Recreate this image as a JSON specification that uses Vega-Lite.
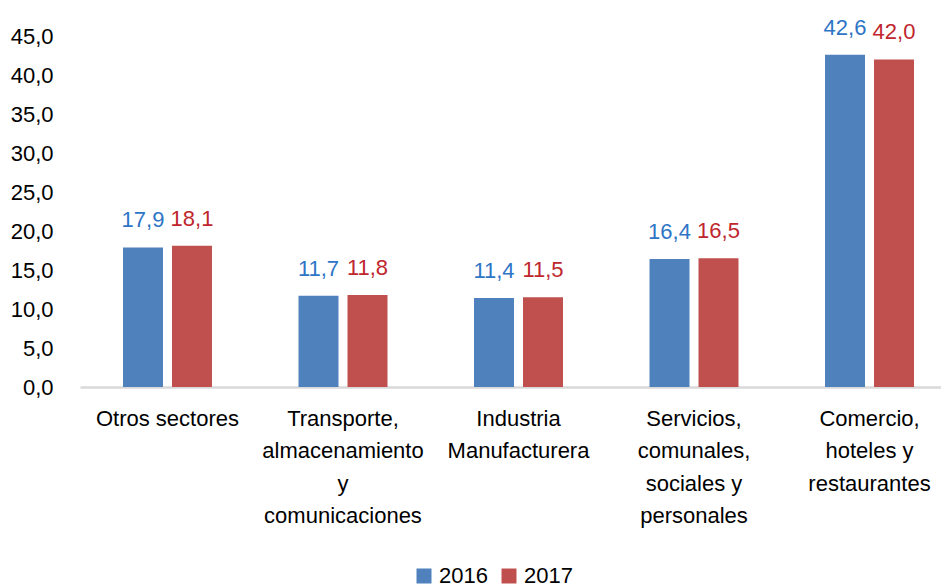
{
  "$schema": "https://vega.github.io/schema/vega-lite/v6.json",
  "width": 861,
  "height": 351,
  "autosize": {"type": "none"},
  "padding": {"left": 80, "top": 36, "right": 0, "bottom": 201},
  "background": "white",
  "config": {
    "locale": {"number": {"decimal": ",", "thousands": ".", "grouping": [3], "currency": ["", " €"]}},
    "font": "Liberation Sans",
    "view": {"stroke": null},
    "axis": {"labelFont": "Liberation Sans", "labelFontSize": 22, "labelColor": "#000000"}
  },
  "data": {
    "values": [
      {"sector": "Otros sectores", "year": "2016", "value": 17.9},
      {"sector": "Otros sectores", "year": "2017", "value": 18.1},
      {"sector": "Transporte, almacenamiento y comunicaciones", "year": "2016", "value": 11.7},
      {"sector": "Transporte, almacenamiento y comunicaciones", "year": "2017", "value": 11.8},
      {"sector": "Industria Manufacturera", "year": "2016", "value": 11.4},
      {"sector": "Industria Manufacturera", "year": "2017", "value": 11.5},
      {"sector": "Servicios, comunales, sociales y personales", "year": "2016", "value": 16.4},
      {"sector": "Servicios, comunales, sociales y personales", "year": "2017", "value": 16.5},
      {"sector": "Comercio, hoteles y restaurantes", "year": "2016", "value": 42.6},
      {"sector": "Comercio, hoteles y restaurantes", "year": "2017", "value": 42.0}
    ]
  },
  "encoding": {
    "x": {
      "field": "sector",
      "type": "nominal",
      "sort": null,
      "title": null,
      "scale": {"range": [0, 877], "paddingInner": 0.493, "paddingOuter": 0.245},
      "axis": {
        "labelAngle": 0,
        "ticks": false,
        "tickSize": 0,
        "domainColor": "#d9d9d9",
        "domainWidth": 2.5,
        "labelPadding": 21,
        "labelBaseline": "top",
        "labelLineHeight": 32.5,
        "labelLimit": 0,
        "labelExpr": "datum.value == 'Transporte, almacenamiento y comunicaciones' ? ['Transporte,', 'almacenamiento', 'y', 'comunicaciones'] : datum.value == 'Industria Manufacturera' ? ['Industria', 'Manufacturera'] : datum.value == 'Servicios, comunales, sociales y personales' ? ['Servicios,', 'comunales,', 'sociales y', 'personales'] : datum.value == 'Comercio, hoteles y restaurantes' ? ['Comercio,', 'hoteles y', 'restaurantes'] : datum.value"
      }
    },
    "xOffset": {
      "field": "year",
      "type": "nominal",
      "scale": {"paddingInner": 0.1837, "paddingOuter": 0}
    },
    "y": {
      "field": "value",
      "type": "quantitative",
      "title": null,
      "scale": {"domain": [0, 45], "nice": false},
      "axis": {
        "values": [0, 5, 10, 15, 20, 25, 30, 35, 40, 45],
        "format": ".1f",
        "domain": false,
        "ticks": false,
        "tickSize": 0,
        "grid": false,
        "labelPadding": 27
      }
    }
  },
  "layer": [
    {
      "mark": {"type": "bar"},
      "encoding": {
        "color": {
          "field": "year",
          "type": "nominal",
          "title": null,
          "scale": {"domain": ["2016", "2017"], "range": ["#4f81bd", "#c0504d"]},
          "legend": {
            "orient": "none",
            "direction": "horizontal",
            "legendX": 333,
            "legendY": 529,
            "symbolType": "square",
            "symbolSize": 225,
            "symbolStrokeWidth": 0,
            "labelFontSize": 22,
            "labelFont": "Liberation Sans",
            "labelColor": "#000000",
            "labelOffset": 4,
            "columnPadding": 10,
            "padding": 0
          }
        }
      }
    },
    {
      "mark": {"type": "text", "baseline": "alphabetic", "dy": -20, "fontSize": 22, "font": "Liberation Sans"},
      "encoding": {
        "text": {"field": "value", "type": "quantitative", "format": ".1f"},
        "color": {
          "field": "year",
          "type": "nominal",
          "scale": {"domain": ["2016", "2017"], "range": ["#2e75c6", "#c0262d"]},
          "legend": null
        }
      }
    }
  ],
  "resolve": {"scale": {"color": "independent"}}
}
